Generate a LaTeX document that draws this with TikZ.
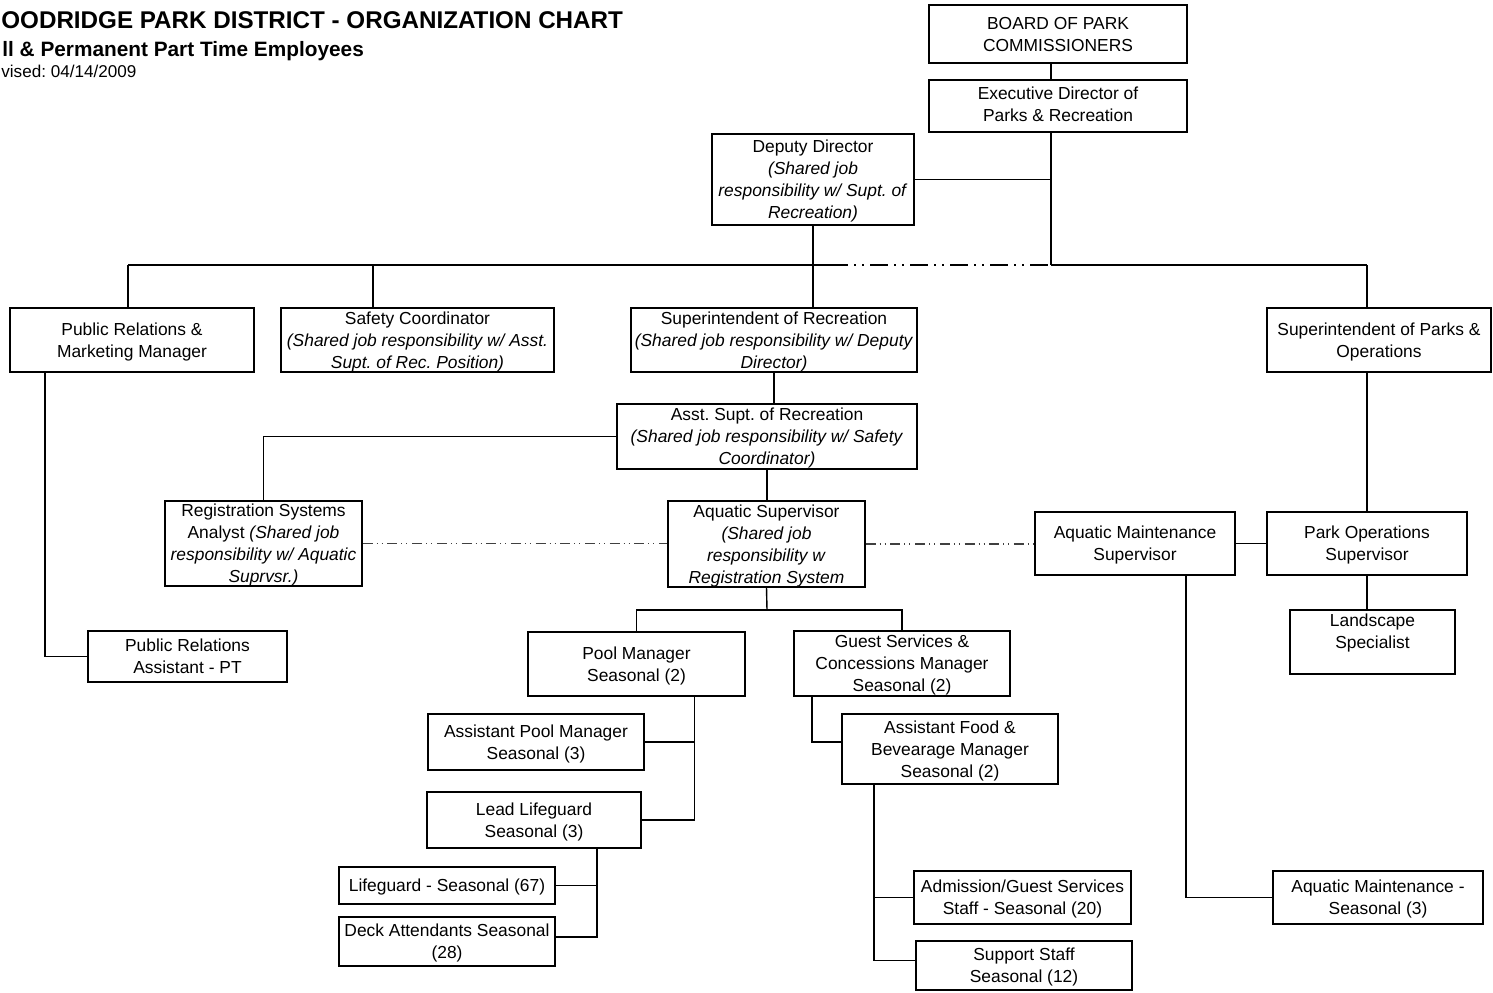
\documentclass[tikz,border=0pt]{standalone}
\usepackage{fontspec}
\setmainfont{Liberation Sans}
\usepackage{tikz}
\usetikzlibrary{positioning}
\frenchspacing

\tikzset{
  postbox/.style={draw,line width=0.7pt,align=center,inner sep=0pt,
    font=\fontsize{8.7}{11}\selectfont,text depth=-1pt},
  link/.style={line width=0.7pt},
  trunk/.style={line width=1.1pt},
  sharedbus/.style={line width=1.1pt,dash pattern=on 9pt off 3pt on 1pt off 3pt on 1pt off 3pt},
  sharedline/.style={line width=0.6pt,black!75,dash pattern=on 5pt off 2pt on 0.5pt off 2pt on 0.5pt off 2.35pt}
}

\begin{document}
\begin{tikzpicture}[x=0.5pt,y=-0.5pt]
\path[use as bounding box] (0,0) rectangle (1493,992);

% heading
\node[anchor=base west,inner sep=0pt,font=\fontsize{12.1}{14}\selectfont\bfseries] (title) at (1,28) {OODRIDGE PARK DISTRICT - ORGANIZATION CHART};
\node[anchor=base west,inner sep=0pt,font=\fontsize{10.4}{12}\selectfont\bfseries] (subtitle) at (2,56) {ll \& Permanent Part Time Employees};
\node[anchor=base west,inner sep=0pt,font=\fontsize{8.55}{10}\selectfont] (revised) at (1,77) {vised: 04/14/2009};

% top
\node[postbox,minimum width=129pt,minimum height=29pt] (board) at (1058,34) {BOARD OF PARK\\COMMISSIONERS};
\node[postbox,minimum width=129pt,minimum height=26pt,text depth=2pt] (exec) at (1058,106) {Executive Director of\\Parks \& Recreation};
\node[postbox,minimum width=101pt,minimum height=45.5pt] (deputy) at (813,179.5) {Deputy Director\\\textit{(Shared job}\\\textit{responsibility w/ Supt. of}\\\textit{Recreation)}};

% second row
\node[postbox,minimum width=122pt,minimum height=32pt] (prmgr) at (132,340) {Public Relations \&\\Marketing Manager};
\node[postbox,minimum width=136.5pt,minimum height=32pt] (safety) at (417.5,340) {Safety Coordinator\\\textit{(Shared job responsibility w/ Asst.}\\\textit{Supt. of Rec. Position)}};
\node[postbox,minimum width=143pt,minimum height=32pt] (suprec) at (774,340) {Superintendent of Recreation\\\textit{(Shared job responsibility w/ Deputy}\\\textit{Director)}};
\node[postbox,minimum width=112pt,minimum height=32pt] (suppark) at (1379,340) {Superintendent of Parks \&\\Operations};

% recreation
\node[postbox,minimum width=150pt,minimum height=32.5pt] (asstsupt) at (767,436.5) {Asst. Supt. of Recreation\\\textit{(Shared job responsibility w/ Safety}\\\textit{Coordinator)}};
\node[postbox,minimum width=98.5pt,minimum height=42.5pt] (regsys) at (263.5,543.5) {Registration Systems\\Analyst \textit{(Shared job}\\\textit{responsibility w/ Aquatic}\\\textit{Suprvsr.)}};
\node[postbox,minimum width=98.5pt,minimum height=43pt] (aqsup) at (766.5,544) {Aquatic Supervisor\\\textit{(Shared job}\\\textit{responsibility w}\\\textit{Registration System}};
\node[postbox,minimum width=99.5pt,minimum height=25.5pt] (prasst) at (187.5,656.5) {Public Relations\\Assistant - PT};

% parks
\node[postbox,minimum width=100pt,minimum height=31.5pt] (aqmaint) at (1135,543.5) {Aquatic Maintenance\\Supervisor};
\node[postbox,minimum width=100pt,minimum height=31.5pt] (parkops) at (1367,543.5) {Park Operations\\Supervisor};
\node[postbox,minimum width=82.5pt,minimum height=32pt] (landsc) at (1372.5,642) {Landscape\\Specialist\\\mbox{}};
\node[postbox,minimum width=105pt,minimum height=26.5pt] (aqmseas) at (1378,897.5) {Aquatic Maintenance -\\Seasonal (3)};

% pool
\node[postbox,minimum width=108.5pt,minimum height=32pt] (poolmgr) at (636.5,664) {Pool Manager\\Seasonal (2)};
\node[postbox,minimum width=108pt,minimum height=28pt] (asstpool) at (536,742) {Assistant Pool Manager\\Seasonal (3)};
\node[postbox,minimum width=107pt,minimum height=28pt] (leadlg) at (534,820) {Lead Lifeguard\\Seasonal (3)};
\node[postbox,minimum width=108pt,minimum height=18.5pt] (lifeg) at (447,885.5) {Lifeguard - Seasonal (67)};
\node[postbox,minimum width=108pt,minimum height=24.5pt] (deck) at (447,941.5) {Deck Attendants Seasonal\\(28)};

% guest services
\node[postbox,minimum width=108pt,minimum height=32.5pt] (guest) at (902,663.5) {Guest Services \&\\Concessions Manager\\Seasonal (2)};
\node[postbox,minimum width=108pt,minimum height=35pt] (foodbev) at (950,749) {Assistant Food \&\\Bevearage Manager\\Seasonal (2)};
\node[postbox,minimum width=108.5pt,minimum height=26.5pt] (admis) at (1022.5,897.5) {Admission/Guest Services\\Staff - Seasonal (20)};
\node[postbox,minimum width=108pt,minimum height=24.5pt] (support) at (1024,965.5) {Support Staff\\Seasonal (12)};

% bus points
\coordinate (busL) at (128,265);
\coordinate (busS) at (373,265);
\coordinate (busM) at (830,265);
\coordinate (busE) at (1051,265);
\coordinate (busR) at (1367,265);
\coordinate (aqfork) at (767,610);

% top lines
\draw[link] (busE |- board.south) -- (busE |- exec.north);
\draw[link] (busE |- deputy.east) -- (deputy.east);
\draw[trunk] (busE |- exec.south) -- (busE);
\draw[trunk] (busL) -- (busM);
\draw[sharedbus] (busM) -- (busE);
\draw[trunk] (busE) -- (busR);
\draw[trunk] (busL) -- (busL |- prmgr.north);
\draw[trunk] (busS) -- (busS |- safety.north);
\draw[trunk] (busR) -- (busR |- suppark.north);
\draw[trunk] (deputy.south) -- (deputy.south |- suprec.north);

% recreation lines
\draw[link] (suprec.south) -- (suprec.south |- asstsupt.north);
\draw[link] (asstsupt.west) -| (regsys.north);
\draw[link] (asstsupt.south) -- (asstsupt.south |- aqsup.north);
\draw[sharedline] (regsys.east) -- (regsys.east -| aqsup.west);
\draw[sharedline] (aqsup.east) -- (aqsup.east -| aqmaint.west);
\draw[link] ([xshift=-43.5pt]prmgr.south) |- (prasst.west);

% parks lines
\draw[link] (parkops.north |- suppark.south) -- (parkops.north);
\draw[link] (aqmaint.east) -- (parkops.west);
\draw[link] (parkops.south) -- (parkops.south |- landsc.north);
\draw[link] ([xshift=25.5pt]aqmaint.south) |- (aqmseas.west);

% aquatics lines
\draw[link] (aqsup.south) -- (aqfork);
\draw[link] (poolmgr.north) |- (aqfork) -| (guest.north);
\coordinate (pmdrop) at ([xshift=29pt]poolmgr.south);
\draw[link] (pmdrop) |- (leadlg.east);
\draw[link] (asstpool.east) -- (asstpool.east -| pmdrop);
\coordinate (lldrop) at ([xshift=31.5pt]leadlg.south);
\draw[link] (lldrop) |- ([yshift=2.25pt]deck.east);
\draw[link] (lifeg.east) -- (lifeg.east -| lldrop);
\draw[link] ([xshift=-45pt]guest.south) |- ([yshift=3.5pt]foodbev.west);
\coordinate (fbdrop) at ([xshift=-38pt]foodbev.south);
\draw[link] (fbdrop) |- ([yshift=2.5pt]support.west);
\draw[link] (admis.west) -- (admis.west -| fbdrop);
\end{tikzpicture}
\end{document}
